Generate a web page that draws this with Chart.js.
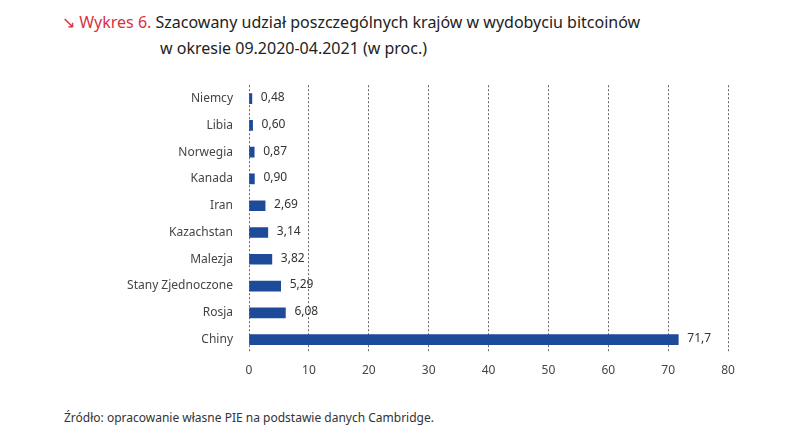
<!DOCTYPE html>
<html>
<head>
<meta charset="utf-8">
<script src="https://cdn.jsdelivr.net/npm/chart.js@4"></script>
<style>
  body { margin: 0; background: #fff; font-family: "Noto Sans", sans-serif; }
  #wrap { position: relative; width: 788px; height: 443px; }
  .title { position: absolute; left: 62px; top: 9px; font-size: 16px; color: #222; line-height: 26px; }
  .title .num { color: #d7323f; }
  .title .l2 { padding-left: 98px; }
  #box { position: absolute; left: 0; top: 70px; width: 788px; height: 311px; }
  .src { position: absolute; left: 64px; top: 409px; font-size: 12px; color: #333; }
</style>
</head>
<body>
<div id="wrap">
  <div class="title"><span class="num">&#8600; Wykres 6.</span> Szacowany udział poszczególnych krajów w wydobyciu bitcoinów<br><span class="l2">w okresie 09.2020-04.2021 (w proc.)</span></div>
  <div id="box"><canvas id="wykres"></canvas></div>
  <div class="src">Źródło: opracowanie własne PIE na podstawie danych Cambridge.</div>
</div>
<script>
const kraje = ['Niemcy', 'Libia', 'Norwegia', 'Kanada', 'Iran', 'Kazachstan', 'Malezja', 'Stany Zjednoczone', 'Rosja', 'Chiny']
const udzial = [0.48, 0.60, 0.87, 0.90, 2.69, 3.14, 3.82, 5.29, 6.08, 71.7]
const etykiety = ['0,48', '0,60', '0,87', '0,90', '2,69', '3,14', '3,82', '5,29', '6,08', '71,7']

const wartosciNaSlupkach = {
    id: 'wartosci',
    afterDatasetsDraw(chart) {
        const ctx = chart.ctx
        const meta = chart.getDatasetMeta(0)
        ctx.save()
        ctx.font = '12px "Noto Sans", sans-serif'
        ctx.fillStyle = '#333'
        ctx.textBaseline = 'middle'
        meta.data.forEach((bar, i) => {
            ctx.fillText(etykiety[i], bar.x + 9, bar.y - 1)
        })
        ctx.restore()
    }
}

const config = {
    type: 'bar',
    data: {
        labels: kraje,
        datasets: [{
            data: udzial,
            backgroundColor: '#1d4b99',
            barThickness: 10
        }]
    },
    options: {
        indexAxis: 'y',
        responsive: true,
        maintainAspectRatio: false,
        animation: false,
        layout: { padding: { top: 8, right: 60, left: 0, bottom: 0 } },
        plugins: {
            legend: { display: false },
            tooltip: { enabled: false }
        },
        scales: {
            x: {
                min: 0,
                max: 80,
                ticks: { stepSize: 10, color: '#444', padding: 10, font: { size: 12, family: 'Noto Sans' } },
                grid: { color: '#666', drawTicks: false, lineWidth: 1 },
                border: { display: false, dash: [2, 2] },
                afterFit(scale) { scale.height = 28 }
            },
            y: {
                ticks: { color: '#444', padding: 8, font: { size: 12, family: 'Noto Sans' } },
                grid: { display: false },
                border: { display: false },
                afterFit(scale) { scale.width = 249 }
            }
        }
    },
    plugins: [wartosciNaSlupkach]
}

new Chart(document.getElementById('wykres'), config)
</script>
</body>
</html>
